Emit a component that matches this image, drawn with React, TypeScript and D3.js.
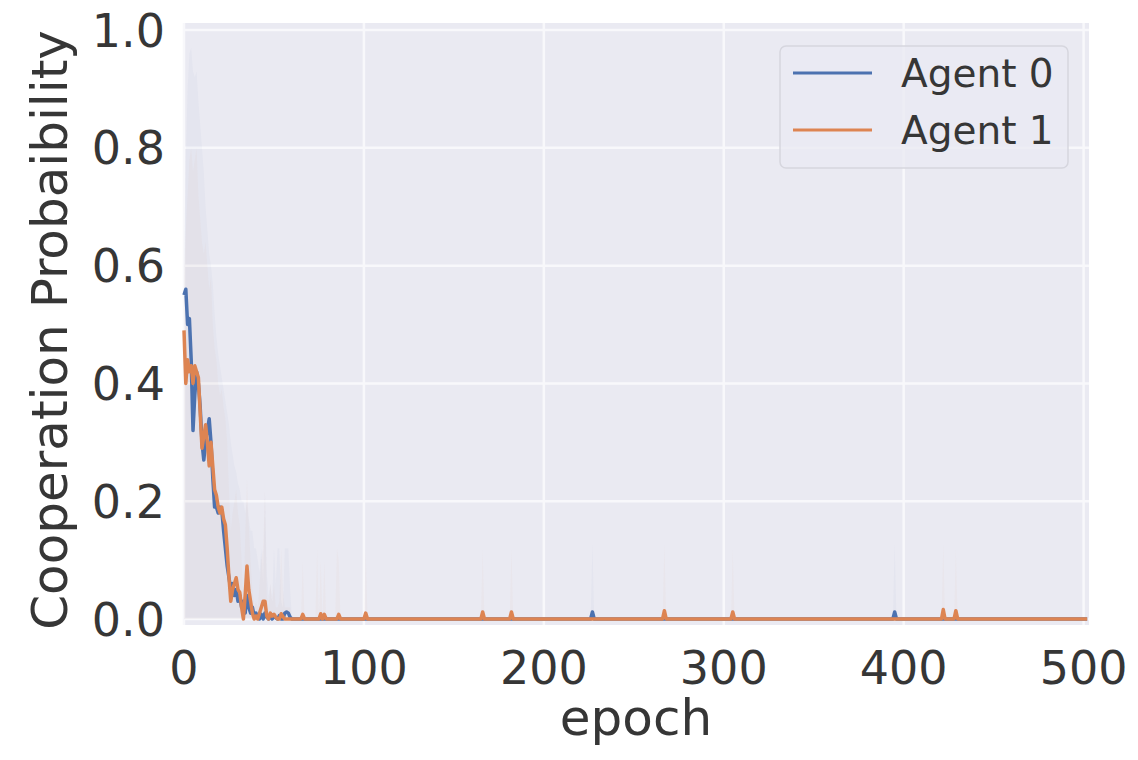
import { useRef, useEffect } from 'react';
import * as d3 from 'd3';

const WIDTH = 1138;
const HEIGHT = 760;
const PLOT = { left: 184, right: 1089, top: 23, bottom: 625 };

const LAST_EPOCH = 502;
const X_TICKS = [0, 100, 200, 300, 400, 500];
const Y_TICKS = [0, 0.2, 0.4, 0.6, 0.8, 1.0];
const AGENTS = ['Agent 0', 'Agent 1'];
const COLORS = ['#4c72b0', '#dd8452'];

// mean cooperation probability, epochs 0..60; later epochs are 0 except the spikes
const agent0Early = [
  0.55, 0.56, 0.5, 0.51, 0.44, 0.32, 0.38, 0.42, 0.4, 0.36,
  0.3, 0.27, 0.3, 0.32, 0.34, 0.3, 0.24, 0.19, 0.19, 0.18,
  0.19, 0.185, 0.15, 0.12, 0.09, 0.07, 0.05, 0.06, 0.04, 0.05,
  0.03, 0.04, 0.02, 0.03, 0.01, 0.04, 0.02, 0.01, 0.02, 0.005,
  0.01, 0.005, 0, 0.008, 0, 0.01, 0.003, 0, 0.005, 0,
  0.004, 0.002, 0, 0.006, 0, 0, 0.01, 0.012, 0.01, 0.003, 0,
];
const agent1Early = [
  0.49, 0.4, 0.44, 0.42, 0.43, 0.4, 0.43, 0.42, 0.41, 0.35,
  0.29, 0.31, 0.33, 0.3, 0.26, 0.3, 0.26, 0.22, 0.21, 0.19,
  0.18, 0.19, 0.17, 0.16, 0.12, 0.07, 0.03, 0.05, 0.06, 0.07,
  0.05, 0.045, 0.02, 0, 0.04, 0.09, 0.05, 0.03, 0.01, 0,
  0.005, 0, 0.01, 0.02, 0.03, 0.03, 0.005, 0, 0.01, 0.005,
  0.008, 0.003, 0, 0, 0.009, 0.004, 0, 0, 0, 0, 0,
];
// [epoch, value] spikes after the early phase
const agent0Spikes = [[227, 0.012], [395, 0.012]];
const agent1Spikes = [
  [66, 0.008], [76, 0.009], [78, 0.008], [86, 0.008], [101, 0.01],
  [166, 0.012], [182, 0.012], [267, 0.014], [305, 0.012], [422, 0.016], [429, 0.014],
];

// upper edge of the confidence band
const band0Early = [
  0.62, 0.78, 0.9, 0.96, 0.97, 0.93, 0.92, 0.93, 0.88, 0.84,
  0.8, 0.76, 0.7, 0.66, 0.62, 0.6, 0.57, 0.52, 0.48, 0.45,
  0.43, 0.41, 0.39, 0.37, 0.35, 0.33, 0.3, 0.28, 0.26, 0.25,
  0.23, 0.22, 0.2, 0.2, 0.18, 0.2, 0.17, 0.15, 0.15, 0.12,
  0.12, 0.1, 0.08, 0.12, 0.06, 0.22, 0.08, 0.04, 0.06, 0.03,
  0.12, 0.06, 0.12, 0.12, 0.03, 0.02, 0.12, 0.12, 0.12, 0.05, 0,
];
const band1Early = [
  0.58, 0.66, 0.72, 0.78, 0.8, 0.76, 0.78, 0.8, 0.72, 0.68,
  0.64, 0.62, 0.64, 0.6, 0.56, 0.58, 0.5, 0.46, 0.44, 0.4,
  0.38, 0.39, 0.36, 0.34, 0.3, 0.22, 0.15, 0.18, 0.2, 0.22,
  0.18, 0.16, 0.1, 0.02, 0.14, 0.24, 0.16, 0.1, 0.05, 0.02,
  0.03, 0.02, 0.06, 0.1, 0.12, 0.22, 0.04, 0.02, 0.06, 0.03,
  0.06, 0.02, 0.02, 0.03, 0.12, 0.05, 0.02, 0.02, 0.02, 0.02, 0,
];
const band0Spikes = [[227, 0.13], [395, 0.13]];
const band1Spikes = [
  [66, 0.1], [74, 0.12], [76, 0.1], [78, 0.1], [85, 0.12], [86, 0.1], [101, 0.12],
  [166, 0.12], [182, 0.12], [267, 0.13], [305, 0.12], [422, 0.13], [429, 0.12],
];

function buildSeries(early: number[], spikes: number[][]) {
  const lookup = new Map(spikes.map(d => [d[0], d[1]]));
  return d3.range(LAST_EPOCH + 1).map(e => ({
    epoch: e,
    value: e < early.length ? early[e] : (lookup.get(e) ?? 0),
  }));
}

export default function App() {
  const svgRef = useRef<SVGSVGElement>(null);

  useEffect(() => {
    document.body.style.margin = '0';
    const svg = d3.select(svgRef.current);
    svg.selectAll('*').remove();

    const x = d3.scaleLinear().domain([0, 503]).range([PLOT.left, PLOT.right]);
    const y = d3.scaleLinear().domain([-0.0102, 1.012]).range([PLOT.bottom, PLOT.top]);

    svg.append('rect').attr('width', WIDTH).attr('height', HEIGHT).attr('fill', '#fff');
    svg.append('rect')
      .attr('x', PLOT.left).attr('y', PLOT.top)
      .attr('width', PLOT.right - PLOT.left).attr('height', PLOT.bottom - PLOT.top)
      .attr('fill', '#eaeaf2');

    // grid
    const grid = svg.append('g').attr('stroke', '#f8f8fb').attr('stroke-width', 2.5);
    grid.selectAll('.gx').data(X_TICKS).enter().append('line')
      .attr('x1', d => x(d)).attr('x2', d => x(d))
      .attr('y1', PLOT.top).attr('y2', PLOT.bottom);
    grid.selectAll('.gy').data(Y_TICKS).enter().append('line')
      .attr('x1', PLOT.left).attr('x2', PLOT.right)
      .attr('y1', d => y(d)).attr('y2', d => y(d));

    const series = [buildSeries(agent0Early, agent0Spikes), buildSeries(agent1Early, agent1Spikes)];
    const bands = [buildSeries(band0Early, band0Spikes), buildSeries(band1Early, band1Spikes)];

    const area = d3.area<{ epoch: number; value: number }>()
      .x(d => x(d.epoch)).y0(y(0)).y1(d => y(d.value));
    const line = d3.line<{ epoch: number; value: number }>()
      .x(d => x(d.epoch)).y(d => y(d.value));

    bands.forEach((b, i) => {
      svg.append('path').datum(b).attr('d', area)
        .attr('fill', COLORS[i]).attr('opacity', 0.035);
    });
    series.forEach((s, i) => {
      svg.append('path').datum(s).attr('d', line)
        .attr('fill', 'none').attr('stroke', COLORS[i])
        .attr('stroke-width', 3.5).attr('stroke-linejoin', 'round');
    });

    const font = 'DejaVu Sans, sans-serif';
    const textColor = '#363636';

    svg.append('g').selectAll('text').data(Y_TICKS).enter().append('text')
      .attr('x', 165).attr('y', d => y(d)).attr('dy', '0.36em')
      .attr('text-anchor', 'end').attr('font-family', font).attr('font-size', 46)
      .attr('fill', textColor).text(d => d.toFixed(1));
    svg.append('g').selectAll('text').data(X_TICKS).enter().append('text')
      .attr('x', d => x(d)).attr('y', 684)
      .attr('text-anchor', 'middle').attr('font-family', font).attr('font-size', 46)
      .attr('fill', textColor).text(d => String(d));

    svg.append('text').attr('x', 636).attr('y', 735)
      .attr('text-anchor', 'middle').attr('font-family', font).attr('font-size', 50)
      .attr('fill', textColor).text('epoch');
    svg.append('text')
      .attr('transform', 'translate(67,330) rotate(-90)')
      .attr('text-anchor', 'middle').attr('font-family', font).attr('font-size', 50)
      .attr('fill', textColor).text('Cooperation Probaibility');

    // legend
    const lg = svg.append('g');
    lg.append('rect').attr('x', 780).attr('y', 46).attr('width', 288).attr('height', 122)
      .attr('rx', 6).attr('fill', '#eaeaf2').attr('fill-opacity', 0.8)
      .attr('stroke', '#d6d6de').attr('stroke-width', 1.5);
    AGENTS.forEach((name, i) => {
      const yy = 73 + i * 57;
      lg.append('line').attr('x1', 793).attr('x2', 872).attr('y1', yy).attr('y2', yy)
        .attr('stroke', COLORS[i]).attr('stroke-width', 3);
      lg.append('text').attr('x', 901).attr('y', yy).attr('dy', '0.36em')
        .attr('font-family', font).attr('font-size', 39).attr('fill', textColor).text(name);
    });
  }, []);

  return <svg ref={svgRef} width={WIDTH} height={HEIGHT} style={{ display: 'block' }} />;
}
